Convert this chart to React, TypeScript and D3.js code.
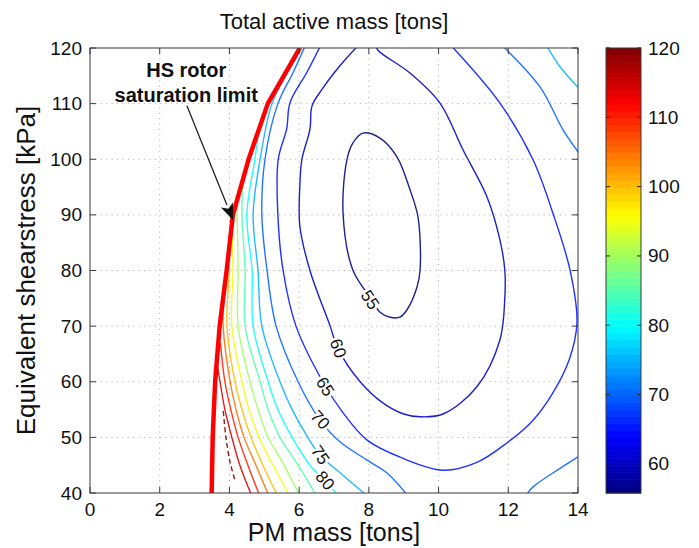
import React, { useEffect, useRef } from "react";
import * as d3 from "d3";

type Pt = [number, number];

const xTicks = [0, 2, 4, 6, 8, 10, 12, 14];
const yTicks = [40, 50, 60, 70, 80, 90, 100, 110, 120];
const colorTicks = [60, 70, 80, 90, 100, 110, 120];
const colorDomain = [55.8, 120];

// HS rotor saturation limit (PM mass [tons], shearstress [kPa])
const saturationLimit: Pt[] = [
  [3.49, 40], [3.52, 50], [3.59, 60], [3.72, 70], [3.92, 80],
  [4.1, 90], [4.55, 100], [5.1, 110], [6.02, 120],
];

// contour lines
const contour55: Pt[] = [
  [7.83, 104.7], [8.32, 103.8], [8.81, 100.4], [9.18, 94.5], [9.41, 89.6],
  [9.47, 80.1], [9.38, 77], [9.09, 72.9], [8.89, 71.6], [8.61, 71.6],
  [8.32, 72.5], [8.09, 74.7], [7.54, 80.1], [7.26, 90.3], [7.37, 99.9], [7.54, 102.9],
];
const contour60: Pt[] = [
  [7.7, 120.5], [7.17, 116.8], [6.66, 112.6], [6.37, 109.6], [6.31, 105.4],
  [6.08, 100], [6.02, 95.2], [6.02, 88], [6.31, 80], [6.89, 70], [7.11, 66],
  [7.75, 60], [8.4, 56.2], [9.0, 54.2], [9.47, 53.7], [10.13, 54.2], [11.1, 59.1],
  [11.76, 67.5], [11.9, 75], [11.9, 80.1], [11.76, 85.5], [11.39, 93.2],
  [10.7, 101.7], [10.04, 110.1], [9.18, 115.5], [8.26, 119.6], [8.2, 120.5],
];
const contour65: Pt[] = [
  [6.62, 120.5], [6.22, 115.6], [5.74, 110.2], [5.64, 105.4], [5.4, 100],
  [5.39, 90], [5.54, 80], [5.91, 70], [6.68, 60], [7.25, 54.5], [7.95, 49.5],
  [8.95, 46.3], [10.13, 44.1], [11.1, 45.5], [11.96, 49], [12.7, 53], [13.28, 58],
  [13.75, 64], [13.97, 70.6], [13.77, 80.1], [13.28, 90.3], [12.71, 99.9],
  [11.76, 110.1], [10.35, 120.5],
];
const contour70: Pt[] = [
  [9.12, 39.5], [8.52, 43.6], [7.95, 45.9], [7.17, 49.2], [6.6, 53.1],
  [5.97, 60], [5.34, 70], [5.08, 80], [4.93, 90], [5.02, 100], [5.39, 110],
  [5.82, 115.5], [6.18, 120.5],
];
const contour70top: Pt[] = [[11.82, 120.5], [12.91, 113], [13.57, 105.3], [14.1, 100.5]];
const contour70bottom: Pt[] = [[12.5, 39.5], [12.71, 41.1], [13.28, 43.6], [14.1, 46.9]];
const contour75: Pt[] = [
  [7.95, 39.5], [7.2, 43.5], [6.6, 46.8], [6.25, 50], [5.8, 55], [5.45, 60],
  [4.93, 70], [4.82, 80], [4.68, 90], [4.88, 100], [5.22, 110], [5.62, 115], [5.95, 118.5],
];
const contour75top: Pt[] = [[13.09, 120.5], [13.5, 116.5], [14.1, 112.3]];
const contour80: Pt[] = [
  [7.12, 39.5], [6.74, 42.3], [6.31, 45], [5.8, 50], [5.39, 55], [5.11, 60],
  [4.68, 70], [4.65, 80], [4.5, 90], [4.73, 100], [4.82, 104],
];
const contour85: Pt[] = [
  [6.5, 39.5], [5.97, 45], [5.45, 50], [5.11, 55], [4.88, 60], [4.45, 70],
  [4.45, 80], [4.36, 90], [4.38, 96],
];
const contour90: Pt[] = [
  [6.02, 39.5], [5.57, 45], [5.11, 50], [4.82, 55], [4.59, 60], [4.25, 70],
  [4.25, 80], [4.22, 90], [4.22, 92.5],
];
const contour95: Pt[] = [
  [5.73, 39.5], [5.25, 45], [4.85, 50], [4.56, 55], [4.36, 60], [4.07, 70],
  [4.1, 80], [4.08, 88],
];
const contour100: Pt[] = [
  [5.38, 39.5], [4.96, 45], [4.62, 50], [4.36, 55], [4.16, 60], [3.93, 70],
  [3.99, 80], [3.97, 82],
];
const contour105: Pt[] = [
  [5.13, 39.5], [4.76, 45], [4.42, 50], [4.19, 55], [4.02, 60], [3.82, 70], [3.83, 74],
];
const contour110: Pt[] = [
  [4.87, 39.5], [4.53, 45], [4.25, 50], [4.04, 55], [3.87, 60], [3.74, 67],
];
const contour115: Pt[] = [
  [4.64, 39.5], [4.3, 45], [4.07, 50], [3.87, 55], [3.73, 60], [3.65, 63],
];
const contour120: Pt[] = [[4.15, 42.5], [4.02, 45.5], [3.9, 50], [3.82, 55]];

const contourLabels = [
  { level: 55, x: 8.03, y: 74.7 },
  { level: 60, x: 7.11, y: 66 },
  { level: 65, x: 6.74, y: 59.1 },
  { level: 70, x: 6.6, y: 53.1 },
  { level: 75, x: 6.6, y: 46.8 },
  { level: 80, x: 6.74, y: 42.2 },
];

const annotationLines = ["HS rotor", "saturation limit"];

const contours = [
  { level: 55, pts: contour55, closed: true },
  { level: 60, pts: contour60 },
  { level: 65, pts: contour65 },
  { level: 70, pts: contour70 },
  { level: 70, pts: contour70top },
  { level: 70, pts: contour70bottom },
  { level: 75, pts: contour75 },
  { level: 75, pts: contour75top },
  { level: 80, pts: contour80 },
  { level: 85, pts: contour85 },
  { level: 90, pts: contour90 },
  { level: 95, pts: contour95 },
  { level: 100, pts: contour100 },
  { level: 105, pts: contour105 },
  { level: 110, pts: contour110 },
  { level: 115, pts: contour115 },
  { level: 120, pts: contour120, dashed: true },
];

// matlab jet colormap
const jet = (t: number) => {
  const c = (v: number) => Math.round(255 * Math.max(0, Math.min(1, v)));
  return d3.rgb(c(1.5 - Math.abs(4 * t - 3)), c(1.5 - Math.abs(4 * t - 2)), c(1.5 - Math.abs(4 * t - 1))).toString();
};

const FONT = "'Liberation Sans', Arial, Helvetica, sans-serif";

const App = () => {
  const svgRef = useRef<SVGSVGElement | null>(null);

  useEffect(() => {
    const svg = d3.select(svgRef.current);
    svg.selectAll("*").remove();

    const plot = { left: 90, right: 578, top: 48, bottom: 493 };
    const x = d3.scaleLinear().domain([0, 14]).range([plot.left, plot.right]);
    const y = d3.scaleLinear().domain([40, 120]).range([plot.bottom, plot.top]);
    const cScale = d3.scaleLinear().domain(colorDomain).range([0, 1]);
    const levelColor = (v: number) => jet(Math.max(0, Math.min(1, cScale(v))));

    svg.append("rect").attr("width", 699).attr("height", 548).attr("fill", "#fff");

    svg.append("defs").append("clipPath").attr("id", "plotClip")
      .append("rect")
      .attr("x", plot.left).attr("y", plot.top)
      .attr("width", plot.right - plot.left).attr("height", plot.bottom - plot.top);

    // dotted grid
    const grid = svg.append("g").attr("stroke", "#b4b4b4").attr("stroke-width", 1).attr("stroke-dasharray", "1.2,4.2");
    xTicks.slice(1, -1).forEach((t) => {
      grid.append("line").attr("x1", x(t)).attr("x2", x(t)).attr("y1", plot.top).attr("y2", plot.bottom);
    });
    yTicks.slice(1, -1).forEach((t) => {
      grid.append("line").attr("x1", plot.left).attr("x2", plot.right).attr("y1", y(t)).attr("y2", y(t));
    });

    // contour lines
    const g = svg.append("g").attr("clip-path", "url(#plotClip)");
    contours.forEach((c) => {
      const line = d3.line<Pt>()
        .x((d) => x(d[0]))
        .y((d) => y(d[1]))
        .curve(c.closed ? d3.curveCatmullRomClosed.alpha(0.5) : d3.curveCatmullRom.alpha(0.5));
      g.append("path")
        .attr("d", line(c.pts))
        .attr("fill", "none")
        .attr("stroke", levelColor(c.level))
        .attr("stroke-opacity", 0.88)
        .attr("stroke-width", 1.4)
        .attr("stroke-dasharray", c.dashed ? "5,3" : null)
        .attr("stroke-linejoin", "round");
    });

    // inline contour labels, rotated along the line
    contourLabels.forEach((lab) => {
      const c = contours.find((k) => k.level === lab.level)!;
      const px = x(lab.x);
      const py = y(lab.y);
      let best = Infinity;
      let angle = 0;
      for (let i = 0; i < c.pts.length - 1; i++) {
        const ax = x(c.pts[i][0]), ay = y(c.pts[i][1]);
        const bx = x(c.pts[i + 1][0]), by = y(c.pts[i + 1][1]);
        const dist = Math.hypot((ax + bx) / 2 - px, (ay + by) / 2 - py);
        if (dist < best) {
          best = dist;
          angle = (Math.atan2(by - ay, bx - ax) * 180) / Math.PI;
        }
      }
      if (angle > 90) angle -= 180;
      if (angle <= -90) angle += 180;
      g.append("text")
        .attr("transform", `translate(${px},${py}) rotate(${angle})`)
        .attr("text-anchor", "middle")
        .attr("dominant-baseline", "central")
        .attr("font-family", FONT)
        .attr("font-size", 17)
        .attr("fill", "#111")
        .attr("stroke", "#fff")
        .attr("stroke-width", 5)
        .attr("paint-order", "stroke")
        .text(lab.level);
    });

    // saturation limit
    g.append("path")
      .attr("d", d3.line<Pt>().x((d) => x(d[0])).y((d) => y(d[1]))(saturationLimit))
      .attr("fill", "none")
      .attr("stroke", "#ff0000")
      .attr("stroke-width", 4.5)
      .attr("stroke-linejoin", "round");

    // axes box and inward ticks
    const axes = svg.append("g").attr("stroke", "#3a3a3a").attr("stroke-width", 1);
    axes.append("rect")
      .attr("x", plot.left).attr("y", plot.top)
      .attr("width", plot.right - plot.left).attr("height", plot.bottom - plot.top)
      .attr("fill", "none");
    xTicks.forEach((t) => {
      axes.append("line").attr("x1", x(t)).attr("x2", x(t)).attr("y1", plot.bottom).attr("y2", plot.bottom - 6);
      axes.append("line").attr("x1", x(t)).attr("x2", x(t)).attr("y1", plot.top).attr("y2", plot.top + 6);
    });
    yTicks.forEach((t) => {
      axes.append("line").attr("x1", plot.left).attr("x2", plot.left + 6).attr("y1", y(t)).attr("y2", y(t));
      axes.append("line").attr("x1", plot.right).attr("x2", plot.right - 6).attr("y1", y(t)).attr("y2", y(t));
    });

    const labels = svg.append("g").attr("font-family", FONT).attr("fill", "#111");
    xTicks.forEach((t) => {
      labels.append("text").attr("x", x(t)).attr("y", 516).attr("text-anchor", "middle")
        .attr("font-size", 19).text(t);
    });
    yTicks.forEach((t) => {
      labels.append("text").attr("x", 82).attr("y", y(t)).attr("text-anchor", "end")
        .attr("dominant-baseline", "central").attr("font-size", 19).text(t);
    });
    labels.append("text").attr("x", 334).attr("y", 29).attr("text-anchor", "middle")
      .attr("font-size", 22).text("Total active mass [tons]");
    labels.append("text").attr("x", 334).attr("y", 541).attr("text-anchor", "middle")
      .attr("font-size", 25).text("PM mass [tons]");
    labels.append("text")
      .attr("transform", `translate(35,${(plot.top + plot.bottom) / 2}) rotate(-90)`)
      .attr("text-anchor", "middle").attr("font-size", 26).text("Equivalent shearstress [kPa]");

    // annotation with arrow
    const tail: Pt = [x(2.78), y(109.6)];
    const tip: Pt = [x(4.1), y(89.1)];
    const ang = Math.atan2(tip[1] - tail[1], tip[0] - tail[0]);
    const headLen = 16;
    const headW = 6.5;
    const bx = tip[0] - headLen * Math.cos(ang);
    const by = tip[1] - headLen * Math.sin(ang);
    svg.append("line")
      .attr("x1", tail[0]).attr("y1", tail[1]).attr("x2", bx).attr("y2", by)
      .attr("stroke", "#222").attr("stroke-width", 1.3);
    svg.append("path")
      .attr("d", `M${tip[0]},${tip[1]} L${bx - headW * Math.sin(ang)},${by + headW * Math.cos(ang)} L${bx + 4 * Math.cos(ang)},${by + 4 * Math.sin(ang)} L${bx + headW * Math.sin(ang)},${by - headW * Math.cos(ang)} Z`)
      .attr("fill", "#111");
    annotationLines.forEach((s, i) => {
      svg.append("text")
        .attr("x", x(2.76)).attr("y", y(116.0) + i * 25)
        .attr("text-anchor", "middle").attr("dominant-baseline", "central")
        .attr("font-family", FONT).attr("font-weight", "bold").attr("font-size", 20)
        .attr("fill", "#111").text(s);
    });

    // colorbar
    const cb = { left: 606, right: 641, top: 48, bottom: 493 };
    const cy = d3.scaleLinear().domain(colorDomain).range([cb.bottom, cb.top]);
    const nBands = 64;
    const bandH = (cb.bottom - cb.top) / nBands;
    const cbar = svg.append("g");
    d3.range(nBands).forEach((i) => {
      cbar.append("rect")
        .attr("x", cb.left).attr("width", cb.right - cb.left)
        .attr("y", cb.bottom - (i + 1) * bandH).attr("height", bandH + 0.6)
        .attr("fill", jet((i + 0.5) / nBands));
    });
    cbar.append("rect")
      .attr("x", cb.left).attr("y", cb.top).attr("width", cb.right - cb.left).attr("height", cb.bottom - cb.top)
      .attr("fill", "none").attr("stroke", "#3a3a3a");
    colorTicks.forEach((t) => {
      cbar.append("line").attr("x1", cb.left).attr("x2", cb.left + 4).attr("y1", cy(t)).attr("y2", cy(t)).attr("stroke", "#222");
      cbar.append("line").attr("x1", cb.right).attr("x2", cb.right - 4).attr("y1", cy(t)).attr("y2", cy(t)).attr("stroke", "#222");
      cbar.append("text").attr("x", cb.right + 7).attr("y", cy(t))
        .attr("dominant-baseline", "central").attr("font-family", FONT).attr("font-size", 19)
        .attr("fill", "#111").text(t);
    });
  }, []);

  return (
    <svg
      ref={svgRef}
      width={699}
      height={548}
      style={{ position: "absolute", left: 0, top: 0, display: "block" }}
    />
  );
};

export default App;
